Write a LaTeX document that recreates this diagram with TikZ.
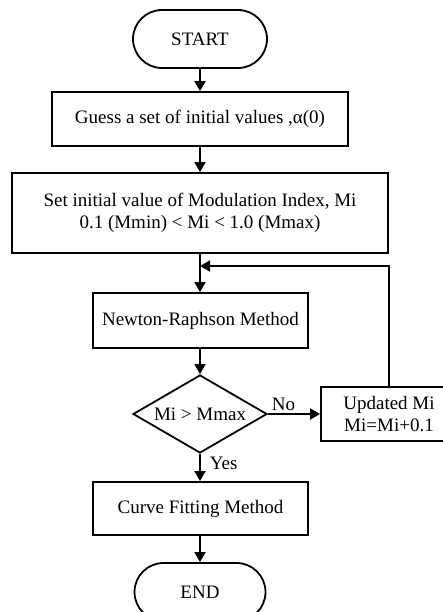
\documentclass[tikz,border=0pt]{standalone}
\usepackage{fontspec}
\setmainfont{Liberation Serif}
\usetikzlibrary{shapes.geometric,shapes.misc,arrows.meta}
\begin{document}
\begin{tikzpicture}[x=1pt,y=-1pt,
  every node/.style={font=\fontsize{19}{22}\selectfont, line width=1.8pt, inner sep=0pt, align=center},
  term/.style={draw, rounded rectangle, minimum width=134pt, minimum height=58pt},
  proc/.style={draw, rectangle, minimum height=54pt},
  dec/.style={draw, diamond, aspect=1.72, minimum width=134pt, minimum height=78pt},
  arr/.style={line width=1.8pt, -{Triangle[length=10pt,width=11pt]}},
  ln/.style={line width=1.8pt}]
\useasboundingbox (0,0) rectangle (443,612);
\node[term] (start) at (200,39) {START};
\node[proc, minimum width=296pt] (guess) at (200,119) {Guess a set of initial values ,α(0)};
\node[proc, minimum width=376pt, minimum height=80pt] (set) at (200,213) {Set initial value of Modulation Index, Mi\\0.1 (Mmin) < Mi < 1.0 (Mmax)};
\node[proc, minimum width=215pt, minimum height=55pt] (newton) at (200.5,320.5) {Newton-Raphson Method};
\node[dec] (cond) at (200,414) {Mi > Mmax};
\node[proc, minimum width=136pt] (upd) at (389,414) {Updated Mi\\Mi=Mi+0.1};
\node[proc, minimum width=215pt, minimum height=53pt] (curve) at (200.5,508.5) {Curve Fitting Method};
\node[term, minimum width=131pt] (end) at (200,592) {END};
\coordinate (j) at (200,266);
\draw[arr] (start) -- (guess);
\draw[arr] (guess) -- (set);
\draw[arr] (set.south) -- (newton.north -| set.south);
\draw[arr] (cond) -- node[above=2pt, pos=0.3] (no) {No} (upd);
\draw[arr] (upd.north) |- (j);
\draw[arr] (newton.south -| cond.north) -- (cond.north);
\draw[arr] (cond.south) -- node[right=9pt, pos=0.35] (yes) {Yes} (curve.north -| cond.south);
\draw[arr] (curve.south -| end.north) -- (end.north);
\end{tikzpicture}
\end{document}
